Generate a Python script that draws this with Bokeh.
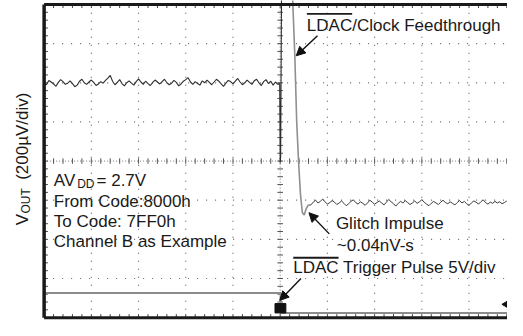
import numpy as np
from bokeh.plotting import figure
from bokeh.models import Range1d, Arrow, NormalHead
from bokeh.core.properties import value
from bokeh.embed import file_html
from bokeh.resources import INLINE

# ---------------- data (in scope divisions) ----------------
SAMPLE_DT = 0.05  # divisions per sample

# VOUT before the LDAC edge (about 6 div)
vout_pre = [6.00, 5.95, 6.06, 6.02, 5.97, 5.91, 6.01, 6.08, 6.03, 5.96,
            5.99, 6.05, 5.98, 5.90, 5.94, 6.04, 6.09, 6.00, 5.96, 6.02,
            6.07, 6.01, 5.93, 5.97, 6.03, 5.99, 6.06, 6.12, 6.19, 6.04,
            5.95, 6.01, 6.08, 5.98, 5.92, 6.00, 6.05, 5.99, 5.94, 6.03,
            6.10, 6.02, 5.96, 6.04, 5.98, 5.93, 6.01, 6.07, 6.02, 5.97,
            6.03, 6.09, 6.00, 5.95, 5.99, 6.06, 6.01, 5.92, 5.97, 6.04,
            6.08, 6.13, 6.02, 5.96, 6.03, 5.98, 5.94, 6.05, 6.00, 6.07,
            6.01, 5.95, 6.02, 6.09, 6.04, 5.97, 5.91, 5.99, 6.06, 6.03,
            5.97, 6.04, 6.11, 6.02, 5.95, 6.00, 6.07, 6.01, 5.96, 6.05,
            6.09, 6.00, 5.93, 6.03, 6.08, 5.98, 6.04, 5.94, 6.02, 5.96]

# feedthrough edge (dark part, goes off screen)
edge_x = [4.99, 5.00, 5.01, 5.03, 5.06, 5.25]
edge_y = [5.98, 3.97, 4.10, 8.60, 8.60, 8.60]

# falling part after the feedthrough spike
fall_x = [5.25, 5.27, 5.31, 5.35, 5.39, 5.43, 5.47, 5.51, 5.55, 5.59, 5.65]
fall_y = [8.60, 7.95, 6.70, 5.00, 3.97, 3.15, 2.68, 2.62, 2.78, 2.87, 2.88]

# VOUT settled at new code (about 2.9 div)
vout_post = [2.88, 2.95, 3.00, 2.93, 2.97, 3.03, 2.96, 2.90, 2.94, 2.99,
             2.95, 2.89, 2.93, 2.98, 2.92, 2.86, 2.91, 2.97, 3.01, 2.94,
             2.90, 2.96, 2.92, 2.87, 2.93, 3.00, 2.95, 2.90, 2.94, 2.98,
             2.93, 2.88, 2.95, 3.02, 2.96, 2.91, 2.85, 2.92, 2.97, 2.93,
             2.99, 2.94, 2.89, 2.93, 2.98, 2.92, 2.96, 3.01, 2.95, 2.90,
             2.86, 2.92, 2.97, 2.93, 2.89, 2.95, 3.00, 2.94, 2.91, 2.96,
             2.92, 2.88, 2.94, 2.99, 2.93, 2.97, 2.91, 2.87, 2.93, 2.98,
             2.95, 2.90, 2.96, 3.01, 2.94, 2.90, 2.95, 2.92, 2.97, 2.93,
             2.96, 2.91, 2.94, 2.98]
POST_START = 5.65

# LDAC trigger pulse
ldac_x = [0.0, 5.01, 5.01, 9.9]
ldac_y = [0.63, 0.63, 0.12, 0.12]

# graticule
N_XDIV = 10
N_YDIV = 8

# ---------------- figure ----------------
W, H = 507, 320
X0, X1 = -0.924, 9.815
Y0, Y1 = -0.073, 8.102
p = figure(width=W, height=H, x_range=Range1d(X0, X1), y_range=Range1d(Y0, Y1),
           x_axis_type=None, y_axis_type=None, output_backend="svg",
           toolbar_location=None, min_border=0)
p.outline_line_color = None
p.background_fill_color = "white"
p.border_fill_color = "white"

XR = X1  # right edge of visible graticule

# dotted grid lines
gx = [k for k in range(1, N_XDIV) if k != 5]
gy = [k for k in range(1, N_YDIV) if k != 4]
p.multi_line(xs=[[x, x] for x in gx], ys=[[0, N_YDIV] for _ in gx],
             line_color="#666", line_width=1.2, line_dash="1 7")
p.multi_line(xs=[[0, XR] for _ in gy], ys=[[y, y] for y in gy],
             line_color="#666", line_width=1.2, line_dash="1 8")
# center cross-hair
p.multi_line(xs=[[5, 5], [0, XR]], ys=[[0, N_YDIV], [4, 4]],
             line_color="#777", line_width=1.0, line_dash="1 2")
minor_y = np.arange(0.2, N_YDIV, 0.2)
minor_x = np.arange(0.2, XR, 0.2)
p.segment(x0=5 - 0.06, x1=5 + 0.06, y0=minor_y, y1=minor_y, line_color="#555", line_width=1)
p.segment(x0=minor_x, x1=minor_x, y0=4 - 0.07, y1=4 + 0.07, line_color="#555", line_width=1)
# border ticks
p.segment(x0=minor_x, x1=minor_x, y0=N_YDIV, y1=N_YDIV - 0.09, line_color="#444", line_width=1)
p.segment(x0=minor_x, x1=minor_x, y0=0, y1=0.09, line_color="#444", line_width=1)
p.segment(x0=0, x1=0.08, y0=minor_y, y1=minor_y, line_color="#444", line_width=1)

# traces
pre_x = np.arange(len(vout_pre)) * SAMPLE_DT
post_x = POST_START + np.arange(len(vout_post)) * SAMPLE_DT
p.line(ldac_x, ldac_y, line_color="#8c8c8c", line_width=2)
p.line(list(pre_x) + edge_x, vout_pre + edge_y, line_color="#2e2e2e", line_width=1.1)
p.line(fall_x, fall_y, line_color="#8f8f8f", line_width=1.6)
p.line(list(post_x), vout_post, line_color="#3a3a3a", line_width=1.0)

# trigger marker and channel marker
p.quad(left=4.89, right=5.12, bottom=0.12, top=0.36, fill_color="#111", line_color="#111")
p.scatter([9.77], [0.34], marker="triangle", angle=np.pi / 2, size=6,
          fill_color="#111", line_color="#111")

# borders
p.line([0, XR], [N_YDIV, N_YDIV], line_color="#1a1a1a", line_width=3)
p.line([0, XR], [0, 0], line_color="#1a1a1a", line_width=3)
p.line([0, 0], [0, N_YDIV], line_color="#1a1a1a", line_width=3.5)

FONT = value("Liberation Sans")
TC = "#1a1a1a"
FS = "17px"
SUB = "12px"
SHIFT = 6  # px correction of rendered baseline

def txt(x, y, s, size=FS, angle=0.0):
    if angle:
        xo, yo = -SHIFT, 0
    else:
        xo, yo = 0, -SHIFT
    p.text(x=[x], y=[y], text=[s], text_font=FONT, text_font_size=size,
           text_color=TC, text_baseline="alphabetic", text_align="left", angle=angle,
           x_offset=xo, y_offset=yo)

# annotations
txt(5.565, 7.32, "LDAC/Clock Feedthrough")
p.line([5.565, 6.525], [7.76, 7.76], line_color=TC, line_width=1.8)
txt(5.277, 1.14, "LDAC Trigger Pulse 5V/div")
p.line([5.277, 6.237], [1.53, 1.53], line_color=TC, line_width=1.8)
txt(6.18, 2.24, "Glitch Impulse")
txt(6.20, 1.70, "~0.04nV-s")

txt(0.205, 3.36, "AV")
txt(0.70, 3.26, "DD", size=SUB)
txt(1.11, 3.36, "= 2.7V")
txt(0.205, 2.82, "From Code:8000h")
txt(0.205, 2.31, "To Code: 7FF0h")
txt(0.205, 1.78, "Channel B as Example")

# y label (rotated)
txt(-0.33, 2.36, "V", angle=np.pi / 2)
txt(-0.25, 2.66, "OUT", size=SUB, angle=np.pi / 2)
txt(-0.33, 3.52, "(200µV/div)", angle=np.pi / 2)

# arrows
for xs, ys, xe, ye in [(5.79, 7.20, 5.34, 6.69), (6.04, 2.14, 5.61, 2.68), (5.44, 1.00, 4.99, 0.44)]:
    p.add_layout(Arrow(end=NormalHead(size=9, fill_color="#111", line_color="#111"),
                       x_start=xs, y_start=ys, x_end=xe, y_end=ye,
                       line_color="#111", line_width=1.4))

open("out.html", "w").write(file_html(p, INLINE))
